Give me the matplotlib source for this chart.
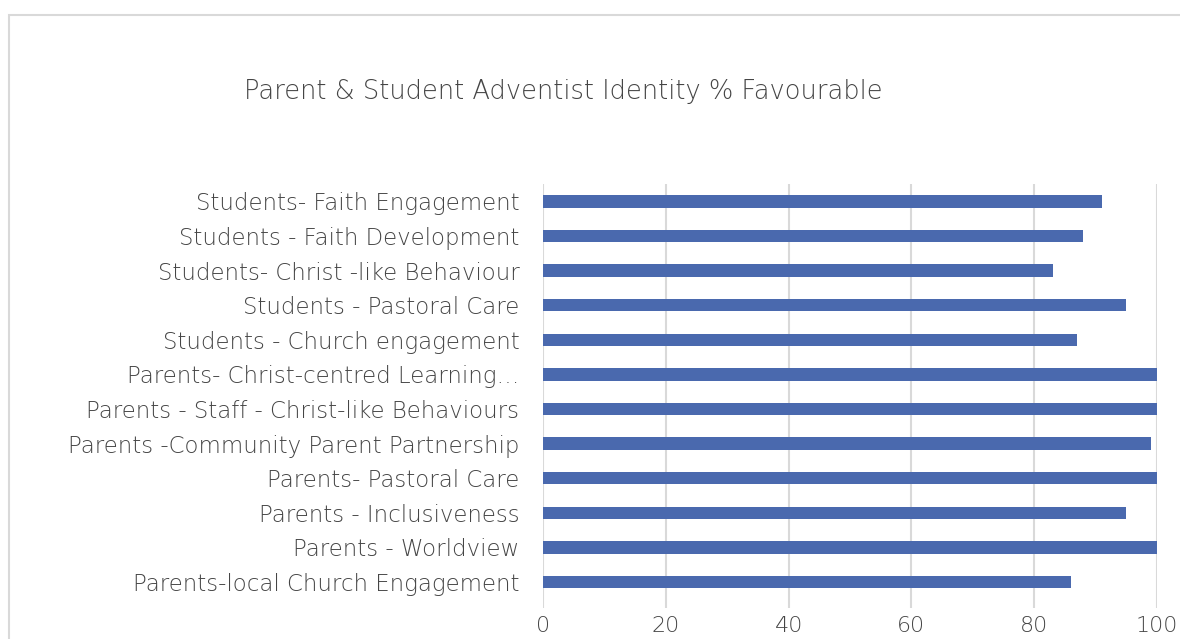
import matplotlib.pyplot as plt
from matplotlib.patches import Rectangle

# survey items, bottom to top as they sit on the axis
categories = [
    "Parents-local Church Engagement",
    "Parents - Worldview",
    "Parents - Inclusiveness",
    "Parents- Pastoral Care",
    "Parents -Community Parent Partnership",
    "Parents - Staff - Christ-like Behaviours",
    "Parents- Christ-centred Learning\u2026",
    "Students - Church engagement",
    "Students - Pastoral Care",
    "Students- Christ -like Behaviour",
    "Students - Faith Development",
    "Students- Faith Engagement",
]
favourable = [86, 100, 95, 100, 99, 100, 100, 87, 95, 83, 88, 91]
xticks = [0, 20, 40, 60, 80, 100]

text_col = "#454545"
bar_col = "#4a69ae"
grid_col = "#d9d9d9"

plt.rcParams["font.family"] = ["DejaVu Sans"]
plt.rcParams["font.weight"] = "light"

fig = plt.figure(figsize=(11.8, 6.39), dpi=100)
W, H = 1180, 639

# chart frame (runs off the right and bottom edges)
fig.patches.append(Rectangle((9 / W, -0.1), 1.2, 1 - 15 / H + 0.1,
                             transform=fig.transFigure, fill=False,
                             edgecolor=grid_col, linewidth=1.5))

left, right = 543, 1157
top, bottom = 184, 608
ax = fig.add_axes([left / W, 1 - bottom / H, (right - left) / W, (bottom - top) / H])

ypos = list(range(len(categories)))
ax.barh(ypos, favourable, height=0.36, color=bar_col, zorder=3)

ax.set_xlim(0, 100)
ax.set_ylim(-0.75, len(categories) - 0.5)
ax.set_xticks(xticks)
ax.set_xticklabels([str(t) for t in xticks], fontsize=16, color=text_col)
ax.set_yticks(ypos)
ax.set_yticklabels(categories, fontsize=16.5, color=text_col)
ax.tick_params(axis="both", length=0)
ax.tick_params(axis="x", pad=6)
ax.tick_params(axis="y", pad=17)

ax.grid(axis="x", color=grid_col, linewidth=1.5, zorder=0)
for s in ax.spines.values():
    s.set_visible(False)

fig.text(563 / W, 1 - 92 / H, "Parent & Student Adventist Identity % Favourable",
         ha="center", va="center", fontsize=18.5, color=text_col)

fig.savefig("out.png", dpi=100)
